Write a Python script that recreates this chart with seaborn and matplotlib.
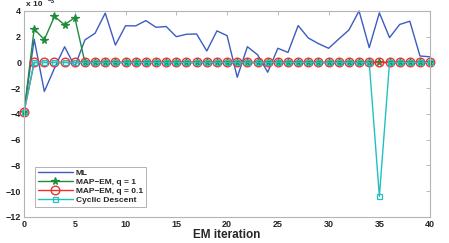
import numpy as np
import pandas as pd
import seaborn as sns
import matplotlib.pyplot as plt

# data (values in units of 1e-3)
iters = list(range(41))
ml = [-3.85, 1.8, -2.25, -0.45, 1.22, -0.32, 1.75, 2.27, 3.83, 1.35, 2.85,
      2.84, 3.25, 2.73, 2.79, 2.0, 2.19, 2.21, 0.89, 2.45, 2.08,
      -1.15, 1.22, 0.6, -0.76, 1.1, 0.78, 2.86, 1.9, 1.46, 1.1,
      1.82, 2.52, 4.0, 1.15, 3.85, 1.93, 2.95, 3.2, 0.5, 0.44]
map_q1 = [-3.85, 2.6, 1.77, 3.57, 2.92, 3.49] + [0.0] * 35
map_q01 = [-3.85] + [0.0] * 40
cyclic = [-3.85] + [0.0] * 34 + [-10.4] + [0.0] * 5

names = ['ML', 'MAP\u2212EM, q = 1', 'MAP\u2212EM, q = 0.1', 'Cyclic Descent']

sns.set_style('white')
plt.rcParams['font.family'] = ['Liberation Sans', 'DejaVu Sans']
plt.rcParams['font.weight'] = 'bold'

fig = plt.figure(figsize=(4.49, 2.43), dpi=100)
ax = fig.add_axes([0.0535, 0.107, 0.9045, 0.848])

sns.lineplot(x=iters, y=ml, ax=ax, color='#3c5cc0', lw=1.0, label=names[0],
             clip_on=False)
sns.lineplot(x=iters, y=map_q1, ax=ax, color='#1e8c3c', lw=1.0, marker='*',
             markersize=5.5, markeredgewidth=0.9, markeredgecolor='#1e8c3c',
             label=names[1], clip_on=False)
sns.lineplot(x=iters, y=map_q01, ax=ax, color='#f03030', lw=1.0, marker='o',
             markersize=6.2, markerfacecolor='none', markeredgewidth=1.0,
             markeredgecolor='#f03030', label=names[2], clip_on=False)
sns.lineplot(x=iters, y=cyclic, ax=ax, color='#22c0c0', lw=1.0, marker='s',
             markersize=3.6, markerfacecolor='none', markeredgewidth=0.9,
             markeredgecolor='#22c0c0', label=names[3], clip_on=False)

ax.set_xlim(0, 40)
ax.set_ylim(-12, 4)
ax.set_xticks(range(0, 41, 5))
ax.set_yticks(range(-12, 5, 2))
ax.tick_params(direction='in', length=3, width=0.6, color='#b0b0b0',
               labelsize=6.5, pad=2, top=True, right=True)
for lab in ax.get_xticklabels() + ax.get_yticklabels():
    lab.set_fontweight('bold')
for s in ax.spines.values():
    s.set_color('#b4b4b4')
    s.set_linewidth(0.8)

ax.set_xlabel('EM iteration', fontsize=8.5, fontweight='bold', labelpad=0)
ax.set_ylabel('')
# scale factor label above the y axis
ax.text(0.004, 1.012, 'x 10', transform=ax.transAxes, fontsize=6,
        ha='left', va='bottom')
ax.text(0.058, 1.035, '\u22123', transform=ax.transAxes, fontsize=4.5,
        ha='left', va='bottom')

leg = ax.legend(loc='lower left', bbox_to_anchor=(0.017, 0.03), fontsize=6,
                handlelength=4.2, handletextpad=0.4, borderpad=0.3,
                labelspacing=0.15, frameon=True, fancybox=False)
leg.get_frame().set_edgecolor('#909090')
leg.get_frame().set_linewidth(0.6)
for t in leg.get_texts():
    t.set_fontweight('bold')

fig.savefig('out.png', dpi=100)
